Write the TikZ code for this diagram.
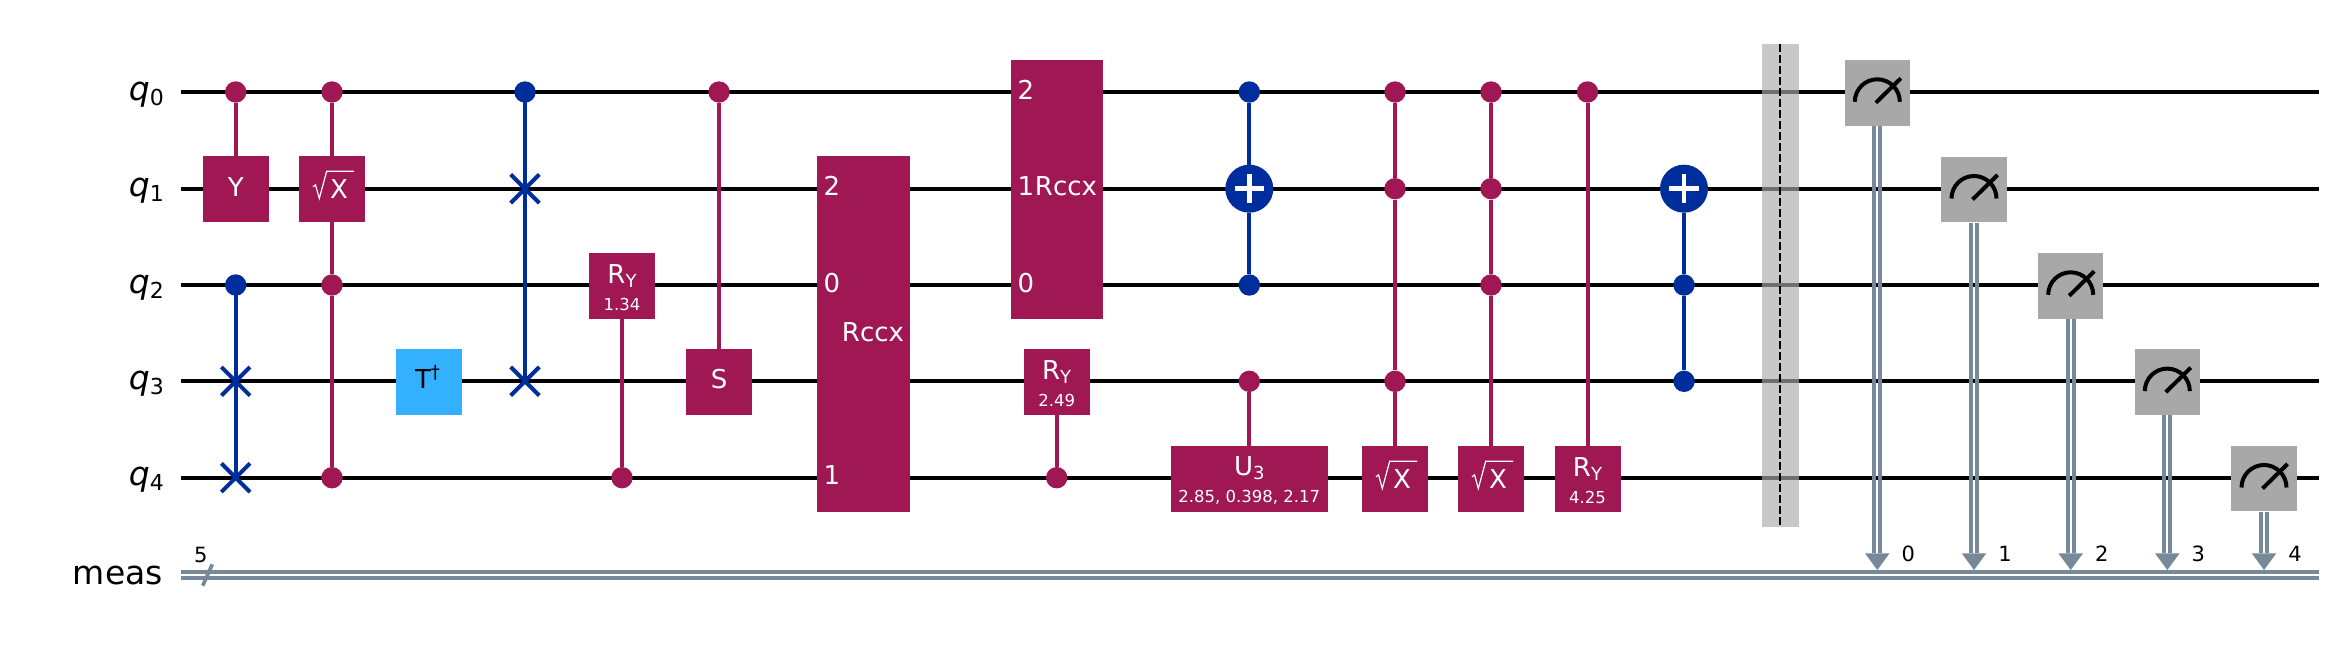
\documentclass[tikz,border=0pt]{standalone}
\usepackage{fontspec}
\setmainfont{DejaVu Sans}
\usetikzlibrary{shapes.misc}
\definecolor{mag}{HTML}{9F1853}
\definecolor{blu}{HTML}{002D9C}
\definecolor{cyn}{HTML}{33B1FF}
\definecolor{gry}{HTML}{A8A8A8}
\definecolor{cls}{HTML}{778899}
\newcommand{\fz}[1]{\fontsize{#1pt}{#1pt}\selectfont}
\newcommand{\qregl}[2]{\node[qtxt] (lab#1) at (164,#2+8) {{\fz{33}\itshape q}\raisebox{-5pt}{\fz{22}#1}};}
\newcommand{\rootx}[1]{%
  \draw[white,line width=1.2pt,line join=miter,shift={(#1.center)}] (-19,-2)--(-16.5,-4)--(-12.7,9.6)--(-5.3,-17.7)--(22,-17.7);
  \node[gtxt] (#1x) at ([xshift=7pt,yshift=-9.5pt]#1.center) {\fz{26}X};}
\newcommand{\rygate}[4]{% name, main, sub, params
  \node[gtxt] (#1a) at ([yshift=2.3pt]#1.center) {\fz{26}#2\raisebox{-4pt}{\fz{18}#3}};
  \node[gtxt] (#1b) at ([yshift=-24.2pt]#1.center) {\fz{16.5}#4};}
\newcommand{\measgate}[4]{% name, x, y, bit
  \node[mbox] (m#1) at (#2,#3+0.8) {};
  \draw[gauge,shift={(m#1.center)}] (-22.5,9) arc[start angle=180,end angle=0,radius=22.5pt];
  \draw[gauge,shift={(m#1.center)}] (-1.5,10) -- (23.5,-14.5);
  \coordinate (tip#1) at (#2,570);
  \coordinate (top#1) at (#2,553.3);
  \draw[clsline] ([xshift=-3pt]m#1.south) -- ([xshift=-3pt]top#1);
  \draw[clsline] ([xshift=3pt]m#1.south) -- ([xshift=3pt]top#1);
  \fill[cls] ([xshift=-12.3pt]top#1) -- ([xshift=12.3pt]top#1) -- (tip#1) -- cycle;
  \node[btxt] (bit#1) at (#2+31,561.3) {\fz{21}#4};}
\tikzset{
  wire/.style={line width=4pt,black},
  clsline/.style={line width=3.7pt,cls},
  gatebox/.style={rectangle,fill=mag,draw=none,inner sep=0pt,minimum width=66pt,minimum height=65.7pt},
  tbox/.style={gatebox,fill=cyn},
  mbox/.style={gatebox,fill=gry,minimum width=65.5pt},
  dotm/.style={circle,fill=mag,draw=none,inner sep=0pt,minimum size=21.4pt},
  dotb/.style={circle,fill=blu,draw=none,inner sep=0pt,minimum size=21.4pt},
  targ/.style={circle,fill=blu,draw=none,inner sep=0pt,minimum size=48pt},
  swp/.style={cross out,draw=blu,line width=4pt,inner sep=0pt,minimum width=24.6pt,minimum height=24.6pt},
  lnm/.style={mag,line width=4pt},
  lnb/.style={blu,line width=4pt},
  plusl/.style={white,line width=4.5pt},
  gauge/.style={black,line width=4pt},
  gtxt/.style={inner sep=0pt,text=white,anchor=base},
  ltxt/.style={inner sep=0pt,text=white,anchor=base west},
  btxt/.style={inner sep=0pt,text=black,anchor=base},
  qtxt/.style={inner sep=0pt,text=black,anchor=base east},
}
\begin{document}
\begin{tikzpicture}[x=1pt,y=-1pt]
\useasboundingbox (0,0) rectangle (2342,648);
\fill[white] (0,0) rectangle (2342,648);
% register labels
\qregl{0}{92}
\qregl{1}{188.7}
\qregl{2}{285}
\qregl{3}{381.3}
\qregl{4}{477.7}
\node[qtxt] (labm) at (163,584) {\fz{33}meas};
% wires
\coordinate (w0a) at (181,92);    \coordinate (w0b) at (2319,92);
\coordinate (w1a) at (181,188.7); \coordinate (w1b) at (2319,188.7);
\coordinate (w2a) at (181,285);   \coordinate (w2b) at (2319,285);
\coordinate (w3a) at (181,381.3); \coordinate (w3b) at (2319,381.3);
\coordinate (w4a) at (181,477.7); \coordinate (w4b) at (2319,477.7);
\foreach \k in {0,...,4} \draw[wire] (w\k a) -- (w\k b);
\coordinate (m1a) at (181,571.7); \coordinate (m1b) at (2319,571.7);
\coordinate (m2a) at (181,577.7); \coordinate (m2b) at (2319,577.7);
\draw[clsline] (m1a) -- (m1b);
\draw[clsline] (m2a) -- (m2b);
\coordinate (sl1) at (202.7,585.7); \coordinate (sl2) at (212.3,564.3);
\draw[clsline] (sl1) -- (sl2);
\node[btxt] (five) at (200.7,562) {\fz{21}5};
% col 1
\node[dotm] (a0) at (235.7,92) {};
\node[gatebox] (a1) at (235.7,188.85) {};
\node[gtxt] (a1t) at ([yshift=-7.3pt]a1.center) {\fz{26}Y};
\draw[lnm] (a0) -- (a1);
\node[dotb] (b2) at (235.7,285) {};
\node[swp] (b3) at (235.7,381.3) {};
\node[swp] (b4) at (235.7,477.7) {};
\draw[lnb] (b2.center) -- (b3.center) -- (b4.center);
% col 2
\node[dotm] (c0) at (332,92) {};
\node[gatebox] (c1) at (332,188.85) {};
\node[dotm] (c2) at (332,285) {};
\node[dotm] (c4) at (332,477.7) {};
\draw[lnm] (c0) -- (c1);
\draw[lnm] (c1) -- (c2) -- (c4);
\rootx{c1}
% T dagger
\node[tbox] (d3) at (429,382.2) {};
\node[btxt] (d3t) at ([yshift=-6.2pt,xshift=-1.5pt]d3.center) {\fz{26}T\raisebox{10pt}{\fz{18}†}};
% swap
\node[dotb] (e0) at (525,92) {};
\node[swp] (e1) at (525,188.7) {};
\node[swp] (e3) at (525,381.3) {};
\draw[lnb] (e0.center) -- (e1.center) -- (e3.center);
% RY 1.34
\node[gatebox] (f2) at (622,285.8) {};
\node[dotm] (f4) at (622,477.7) {};
\draw[lnm] (f2) -- (f4);
\rygate{f2}{R}{Y}{1.34}
% S
\node[dotm] (g0) at (719,92) {};
\node[gatebox] (g3) at (719,382.2) {};
\node[gtxt] (g3t) at ([yshift=-6.2pt]g3.center) {\fz{26}S};
\draw[lnm] (g0) -- (g3);
% Rccx 1
\node[gatebox,minimum width=93pt,minimum height=355.7pt] (h) at (863.5,333.85) {};
\node[ltxt] (h2) at (823.5,195.7) {\fz{26}2};
\node[ltxt] (h0) at (823.5,292) {\fz{26}0};
\node[ltxt] (h1) at (823.5,484.7) {\fz{26}1};
\node[gtxt] (ht) at (873,341) {\fz{26}Rccx};
% Rccx 2
\node[gatebox,minimum width=92pt,minimum height=258.6pt] (i) at (1057,189.3) {};
\node[ltxt] (i2) at (1017.5,99) {\fz{26}2};
\node[ltxt] (i1) at (1017.5,195.7) {\fz{26}1};
\node[ltxt] (i0) at (1017.5,292) {\fz{26}0};
\node[gtxt] (it) at (1066,195.7) {\fz{26}Rccx};
% RY 2.49
\node[gatebox] (j3) at (1056.7,382.2) {};
\node[dotm] (j4) at (1056.7,477.7) {};
\draw[lnm] (j3) -- (j4);
\rygate{j3}{R}{Y}{2.49}
% CX
\node[dotb] (k0) at (1249.3,92) {};
\node[targ] (k1) at (1249.3,188.7) {};
\node[dotb] (k2) at (1249.3,285) {};
\draw[lnb] (k0) -- (k1);
\draw[lnb] (k1) -- (k2);
\draw[plusl] ([xshift=-14.7pt]k1.center) -- ([xshift=14.7pt]k1.center);
\draw[plusl] ([yshift=14.7pt]k1.center) -- ([yshift=-14.7pt]k1.center);
% U3
\node[dotm] (l3) at (1249.3,381.3) {};
\node[gatebox,minimum width=157pt] (l4) at (1249.3,478.85) {};
\draw[lnm] (l3) -- (l4);
\node[gtxt] (l4a) at ([yshift=3.1pt,xshift=0pt]l4.center) {\fz{26}U\raisebox{-3.5pt}{\fz{18}3}};
\node[gtxt] (l4b) at ([yshift=-23.5pt]l4.center) {\fz{16.5}2.85, 0.398, 2.17};
% CCSX 1
\node[dotm] (n0) at (1395,92) {};
\node[dotm] (n1) at (1395,188.7) {};
\node[dotm] (n3) at (1395,381.3) {};
\node[gatebox] (n4) at (1395,478.85) {};
\draw[lnm] (n0) -- (n1) -- (n3) -- (n4);
\rootx{n4}
% CCSX 2
\node[dotm] (o0) at (1491,92) {};
\node[dotm] (o1) at (1491,188.7) {};
\node[dotm] (o2) at (1491,285) {};
\node[gatebox] (o4) at (1491,478.85) {};
\draw[lnm] (o0) -- (o1) -- (o2) -- (o4);
\rootx{o4}
% RY 4.25
\node[dotm] (p0) at (1587.5,92) {};
\node[gatebox] (p4) at (1587.5,478.85) {};
\draw[lnm] (p0) -- (p4);
\rygate{p4}{R}{Y}{4.25}
% CCX
\node[targ] (r1) at (1684,188.7) {};
\node[dotb] (r2) at (1684,285) {};
\node[dotb] (r3) at (1684,381.3) {};
\draw[lnb] (r1) -- (r2) -- (r3);
\draw[plusl] ([xshift=-14.7pt]r1.center) -- ([xshift=14.7pt]r1.center);
\draw[plusl] ([yshift=14.7pt]r1.center) -- ([yshift=-14.7pt]r1.center);
% barrier
\fill[fill=black!33,fill opacity=0.65] (1762,43.8) rectangle (1799,527);
\coordinate (ba) at (1780,43.8);
\coordinate (bb) at (1780,527);
\draw[black,line width=2.5pt,dash pattern=on 7.7pt off 3.3pt] (ba) -- (bb);
% measures
\measgate{0}{1877.3}{92}{0}
\measgate{1}{1974}{188.7}{1}
\measgate{2}{2070.7}{285}{2}
\measgate{3}{2167.3}{381.3}{3}
\measgate{4}{2264}{477.7}{4}
\end{tikzpicture}
\end{document}
